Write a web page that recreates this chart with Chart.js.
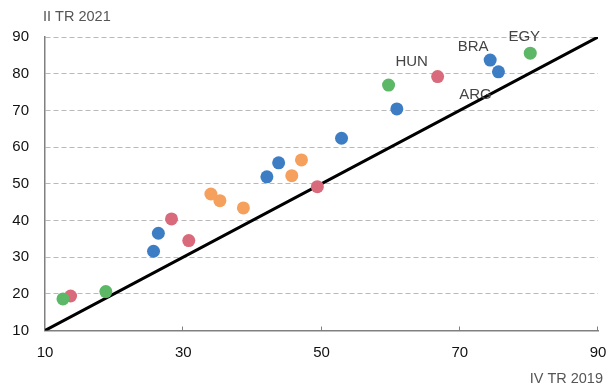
<!DOCTYPE html>
<html>
<head>
<meta charset="utf-8">
<script src="https://cdn.jsdelivr.net/npm/chart.js@4/dist/chart.umd.min.js"></script>
<style>
html,body{margin:0;padding:0;background:#fff;}
#wrap{width:607px;height:385px;position:relative;}
</style>
</head>
<body>
<div id="wrap"><canvas id="c" width="607" height="385"></canvas></div>
<script>
// ---- data (x = IV TR 2019, y = II TR 2021) ----
const blueX   = [25.7, 26.4, 42.1, 43.8, 52.9, 60.9, 74.4, 75.6];
const blueY   = [31.6, 36.5, 51.9, 55.7, 62.4, 70.4, 83.7, 80.5];
const redX    = [13.7, 28.3, 30.8, 49.4, 66.8];
const redY    = [19.4, 40.4, 34.5, 49.2, 79.2];
const greenX  = [12.6, 18.8, 59.7, 80.2];
const greenY  = [18.6, 20.6, 76.9, 85.6];
const orangeX = [34.0, 35.3, 38.7, 45.7, 47.1];
const orangeY = [47.2, 45.4, 43.4, 52.2, 56.5];
const diagX   = [10, 90];
const diagY   = [10, 90];
const xTicks  = [10, 30, 50, 70, 90];
const yTicks  = [10, 20, 30, 40, 50, 60, 70, 80, 90];
const yTitle  = "II TR 2021";
const xTitle  = "IV TR 2019";
// labelled points: [text, series, index]
const labelNames  = ["HUN", "BRA", "EGY", "ARG"];
const labelSeries = ["red", "blue", "green", "blue"];
const labelIndex  = [4, 6, 3, 7];

const FONT = "'Liberation Sans', Arial, Helvetica, sans-serif";
const pts = (xs, ys) => xs.map((x, i) => ({x: x, y: ys[i]}));
const COLORS = {blue: '#3d7dc4', red: '#d96a7b', green: '#5cb866', orange: '#f5a05c'};
const seriesData = {
  blue: pts(blueX, blueY), red: pts(redX, redY),
  green: pts(greenX, greenY), orange: pts(orangeX, orangeY)
};
// label offsets in pixels relative to the point (layout only)
const labelOffsets = {HUN: [-26, -16], BRA: [-17, -15], EGY: [-6, -18], ARG: [-23, 22]};

function dot(name) {
  return {
    type: 'scatter', label: name, data: seriesData[name],
    backgroundColor: COLORS[name], borderColor: COLORS[name], borderWidth: 0,
    pointRadius: 6.5, pointHoverRadius: 6.5
  };
}

const overlay = {
  id: 'overlay',
  afterDraw(chart) {
    const ctx = chart.ctx, xs = chart.scales.x, ys = chart.scales.y;
    const area = chart.chartArea;
    ctx.save();
    // upward tick marks on x axis
    ctx.strokeStyle = '#808080';
    ctx.lineWidth = 1;
    xTicks.forEach(v => {
      if (v === xs.min) return;
      const px = Math.round(xs.getPixelForValue(v)) - 0.5;
      ctx.beginPath();
      ctx.moveTo(px, area.bottom);
      ctx.lineTo(px, area.bottom - 4);
      ctx.stroke();
    });
    // axis titles
    ctx.fillStyle = '#555';
    ctx.font = '14.5px ' + FONT;
    ctx.textBaseline = 'alphabetic';
    ctx.textAlign = 'left';
    ctx.fillText(yTitle, area.left - 2, 21);
    ctx.textAlign = 'right';
    ctx.fillText(xTitle, 603, 383);
    // country labels
    ctx.fillStyle = '#444';
    ctx.font = '15px ' + FONT;
    ctx.textAlign = 'center';
    labelNames.forEach((n, i) => {
      const p = seriesData[labelSeries[i]][labelIndex[i]];
      const off = labelOffsets[n];
      const px = xs.getPixelForValue(p.x) + off[0];
      const py = ys.getPixelForValue(p.y) + off[1];
      ctx.fillText(n, px, py + 5.4);
    });
    ctx.restore();
  }
};

new Chart(document.getElementById('c'), {
  data: {
    datasets: [
      dot('green'), dot('red'), dot('blue'), dot('orange'),
      {
        type: 'line', label: 'diag', data: pts(diagX, diagY),
        borderColor: '#000', borderWidth: 3, pointRadius: 0, fill: false,
        tension: 0, borderCapStyle: 'round'
      }
    ]
  },
  options: {
    responsive: false,
    animation: false,
    events: [],
    layout: {padding: {top: 37, right: 9, left: 0, bottom: 0}},
    plugins: {legend: {display: false}, tooltip: {enabled: false}},
    scales: {
      x: {
        type: 'linear', min: 10, max: 90,
        afterBuildTicks: s => { s.ticks = xTicks.map(v => ({value: v})); },
        afterFit: s => { s.height = 54.5; s.paddingLeft = 0; s.paddingRight = 0; },
        ticks: {font: {size: 15, family: FONT}, color: '#111', padding: 13, maxRotation: 0},
        grid: {display: false, drawTicks: false},
        border: {display: true, color: '#808080', width: 1.5}
      },
      y: {
        type: 'linear', min: 10, max: 90,
        afterBuildTicks: s => { s.ticks = yTicks.map(v => ({value: v})); },
        afterFit: s => { s.width = 45; s.paddingTop = 0; s.paddingBottom = 0; },
        ticks: {font: {size: 15, family: FONT}, color: '#111', padding: 16},
        grid: {
          drawTicks: false,
          color: c => (c.tick && c.tick.value === 10) ? 'rgba(0,0,0,0)' : '#b9b9b9',
          lineWidth: 1
        },
        border: {display: true, color: '#808080', width: 1.5, dash: [5, 3]}
      }
    }
  },
  plugins: [overlay]
});
</script>
</body>
</html>
